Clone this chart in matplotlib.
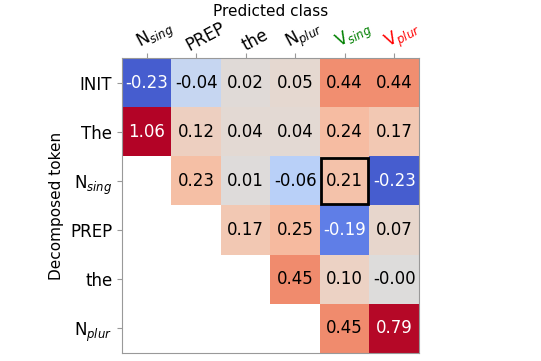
import numpy as np
import matplotlib
matplotlib.use("Agg")
import matplotlib.pyplot as plt
import matplotlib.transforms as mtransforms
from matplotlib.colors import TwoSlopeNorm
from matplotlib.patches import Rectangle

# predicted classes (columns) and decomposed tokens (rows)
pred_labels = [r"N$_{sing}$", "PREP", "the", r"N$_{plur}$", r"V$_{sing}$", r"V$_{plur}$"]
pred_colors = ["black", "black", "black", "black", "green", "red"]
tok_labels = ["INIT", "The", r"N$_{sing}$", "PREP", "the", r"N$_{plur}$"]

row_init = [-0.23, -0.04, 0.02, 0.05, 0.44, 0.44]
row_the_cap = [1.06, 0.12, 0.04, 0.04, 0.24, 0.17]
row_nsing = [np.nan, 0.23, 0.01, -0.06, 0.21, -0.23]
row_prep = [np.nan, np.nan, 0.17, 0.25, -0.19, 0.07]
row_the = [np.nan, np.nan, np.nan, 0.45, 0.10, -0.00]
row_nplur = [np.nan, np.nan, np.nan, np.nan, 0.45, 0.79]

vals = np.array([row_init, row_the_cap, row_nsing, row_prep, row_the, row_nplur])
highlight = (2, 4)

norm = TwoSlopeNorm(vmin=-0.25, vcenter=0.0, vmax=0.8)
cmap = plt.get_cmap("coolwarm")

fig = plt.figure(figsize=(5.41, 3.61), dpi=100)
ax = fig.add_axes([122 / 541, 8 / 361, 297 / 541, 295 / 361])

ax.imshow(np.ma.masked_invalid(vals), cmap=cmap, norm=norm, aspect="auto",
          extent=(0, 6, 6, 0), interpolation="nearest")

for i in range(6):
    for j in range(6):
        v = vals[i, j]
        if np.isnan(v):
            continue
        n = norm(v)
        col = "white" if (n < 0.15 or n > 0.9) else "black"
        ax.text(j + 0.5, i + 0.5, f"{v:.2f}", ha="center", va="center",
                fontsize=12, color=col)

ax.add_patch(Rectangle((highlight[1] + 0.03, highlight[0] + 0.03), 0.94, 0.94,
                       fill=False, edgecolor="black", lw=2))

ax.set_xlim(0, 6)
ax.set_ylim(6, 0)
ax.xaxis.tick_top()
ax.set_xticks(np.arange(6) + 0.5)
ax.set_xticklabels([])
# column labels drawn by hand, rotated and nudged right like the original
trans = mtransforms.blended_transform_factory(ax.transData, ax.transAxes)
shift = mtransforms.ScaledTranslation(9 / 100, 3 / 100, fig.dpi_scale_trans)
for j, (lab, c) in enumerate(zip(pred_labels, pred_colors)):
    ax.text(j + 0.5, 1.0, lab, transform=trans + shift, rotation=28,
            ha="center", va="bottom", fontsize=12, color=c)
fig.text(270.5 / 541, 1 - 12 / 361, "Predicted class", ha="center",
         va="center", fontsize=11)

ax.set_yticks(np.arange(6) + 0.5)
ax.set_yticklabels(tok_labels, fontsize=12)
ax.set_ylabel("Decomposed token", fontsize=11, labelpad=4)
ax.tick_params(color="#999999", length=3.5)
for s in ax.spines.values():
    s.set_color("#999999")

fig.savefig("out.png", dpi=100)
